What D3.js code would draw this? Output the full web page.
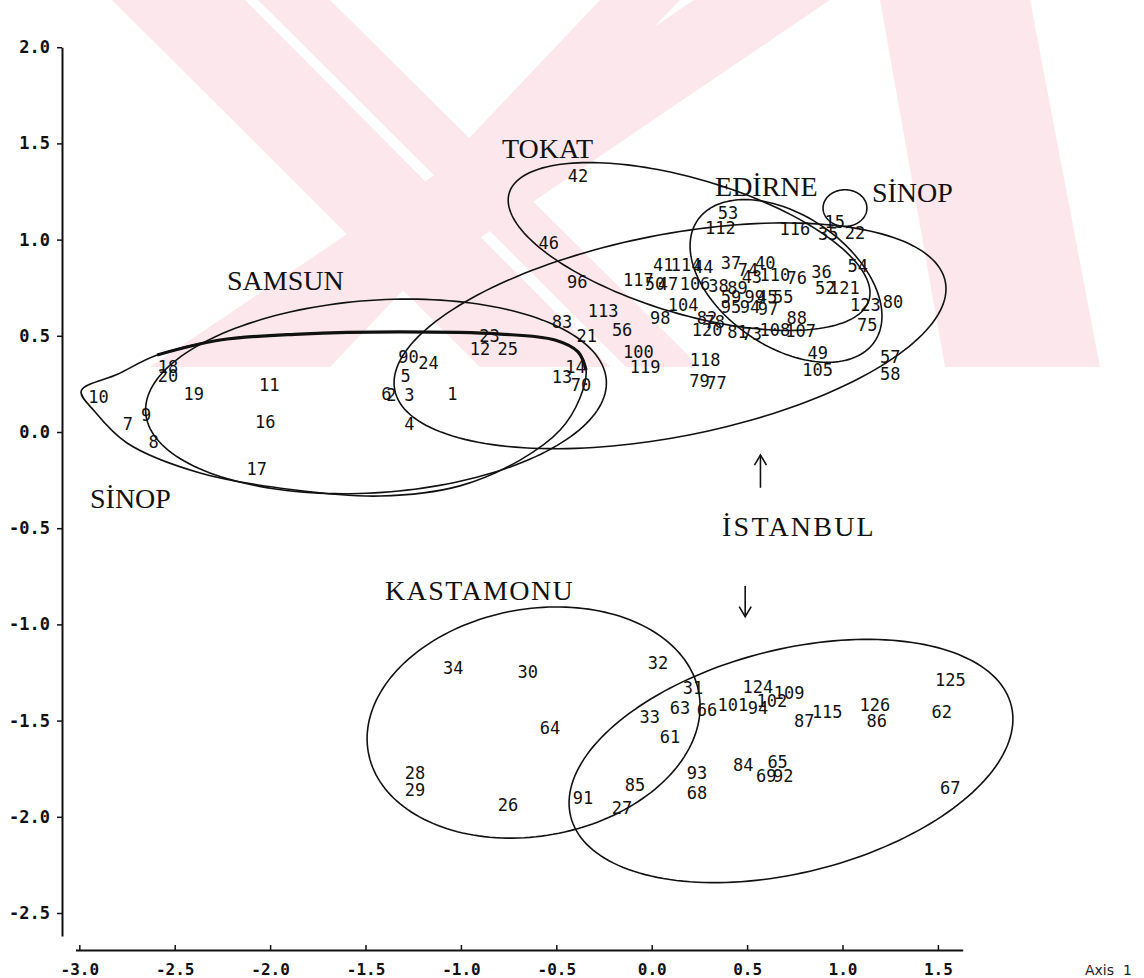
<!DOCTYPE html>
<html>
<head>
<meta charset="utf-8">
<script src="https://cdn.jsdelivr.net/npm/d3@7"></script>
<style>
  body { margin: 0; background: #fff; }
  svg { display: block; }
</style>
</head>
<body>
<svg id="chart" width="1144" height="978"></svg>
<script>
// ---- point labels: specimen numbers and their scores on the two axes ----
const pointLabels = ["10","7","9","8","18","20","19","11","16","17","6","2","3","1","4","5","90","24","23","12","25","83","21","13","14","70",
  "42","46","96","113","56","100","119","118","79","77","53","112","116","15","35","22","54","80","123","75","57","58","49","105","88",
  "120","81","73","108","107","41","114","44","117","50","47","106","38","89","37","74","40","43","110","76","36","52","121",
  "59","99","45","55","95","94","97","104","98","82","78",
  "34","30","32","31","63","33","66","64","61","28","29","26","91","85","27","93","68",
  "124","101","94","102","109","87","115","126","86","125","62","84","65","69","92","67"];
const pointX = [-2.90,-2.745,-2.65,-2.61,-2.535,-2.535,-2.40,-2.005,-2.025,-2.07,-1.39,-1.365,-1.27,-1.045,-1.27,-1.29,-1.275,-1.17,-0.85,-0.90,-0.755,-0.47,-0.34,-0.47,-0.40,-0.37,
  -0.386,-0.54,-0.39,-0.255,-0.155,-0.07,-0.035,0.28,0.25,0.34,0.40,0.36,0.75,0.96,0.925,1.065,1.08,1.265,1.12,1.13,1.25,1.25,0.87,0.87,0.76,
  0.29,0.45,0.525,0.645,0.78,0.06,0.18,0.27,-0.07,0.017,0.085,0.227,0.35,0.45,0.415,0.505,0.595,0.525,0.646,0.76,0.89,0.91,1.01,
  0.415,0.54,0.605,0.69,0.415,0.515,0.61,0.165,0.045,0.29,0.33,
  -1.04,-0.65,0.033,0.216,0.148,-0.01,0.29,-0.533,0.096,-1.24,-1.24,-0.753,-0.36,-0.0875,-0.156,0.237,0.237,
  0.557,0.426,0.557,0.63,0.72,0.80,0.92,1.17,1.18,1.565,1.52,0.48,0.66,0.60,0.69,1.565];
const pointY = [0.18,0.04,0.09,-0.05,0.34,0.29,0.20,0.245,0.05,-0.19,0.20,0.19,0.19,0.20,0.04,0.29,0.39,0.36,0.50,0.43,0.43,0.57,0.50,0.285,0.34,0.245,
  1.33,0.98,0.78,0.63,0.53,0.415,0.34,0.375,0.265,0.255,1.14,1.06,1.055,1.09,1.03,1.035,0.865,0.675,0.66,0.555,0.39,0.30,0.41,0.32,0.59,
  0.53,0.52,0.51,0.53,0.525,0.87,0.87,0.86,0.79,0.77,0.77,0.77,0.76,0.75,0.88,0.84,0.88,0.805,0.815,0.80,0.83,0.75,0.75,
  0.70,0.70,0.70,0.70,0.65,0.65,0.64,0.66,0.59,0.59,0.57,
  -1.225,-1.245,-1.20,-1.33,-1.435,-1.48,-1.445,-1.54,-1.585,-1.77,-1.86,-1.94,-1.90,-1.835,-1.955,-1.77,-1.875,
  -1.325,-1.42,-1.435,-1.40,-1.355,-1.50,-1.455,-1.42,-1.50,-1.29,-1.455,-1.73,-1.715,-1.79,-1.79,-1.85];

// ---- province groups drawn as ellipses (centre, semi-axes, rotation in degrees) ----
const groupNames = ["SAMSUN","ISTANBUL","TOKAT","EDIRNE","SINOP-E","KASTAMONU","ISTANBUL-S"];
const groupCx    = [-1.445, 0.096, 0.196, 0.704, 1.013, -0.619, 0.73];
const groupCy    = [ 0.185, 0.50,  0.964, 0.785, 1.164, -1.51, -1.71];
const groupRx    = [ 1.21,  1.47,  0.983, 0.561, 0.115, 0.88,  1.19];
const groupRy    = [ 0.50,  0.525, 0.351, 0.342, 0.095, 0.59,  0.58];
const groupRot   = [ 4,     11,    -16.4, -34,   0,     10,    14];

// ---- western Sinop group outline (tear-drop) ----
const sinopX = [-2.99,-2.80,-2.592,-2.263,-1.843,-1.319,-0.795,-0.507,-0.386,-0.344,-0.376,-0.48,-0.69,-1.005,-1.424,-1.88,-2.367,-2.75,-2.917];
const sinopY = [0.213,0.30,0.40,0.478,0.509,0.52,0.509,0.478,0.416,0.322,0.177,0.01,-0.146,-0.28,-0.333,-0.30,-0.213,-0.057,0.104];

// ---- province names ----
const regionText  = ["TOKAT","EDİRNE","SİNOP","SAMSUN","SİNOP","KASTAMONU","İSTANBUL"];
const regionX     = [-0.785, 0.332, 1.154, -2.226, -2.944, -1.398, 0.369];
const regionY     = [ 1.424, 1.227, 1.195,  0.738, -0.395, -0.873, -0.54];
const regionSpace = [0, 0, 0, 0, 0, 1.4, 2.2];

// ---- arrows tying the İstanbul name to its two outlines (x, y from, y to) ----
const arrowX    = [0.57, 0.49];
const arrowFrom = [-0.29, -0.80];
const arrowTo   = [-0.12, -0.96];

// ---- axis ticks ----
const xTicks = [-3.0,-2.5,-2.0,-1.5,-1.0,-0.5,0.0,0.5,1.0,1.5];
const yTicks = [2.0,1.5,1.0,0.5,0.0,-0.5,-1.0,-1.5,-2.0,-2.5];

const svg = d3.select("#chart");

// pale pink emblem printed behind the upper part of the page
const emblem = [
  [[112,0],[245,0],[610,367],[480,367]],
  [[258,0],[330,0],[700,367],[626,367]],
  [[600,0],[680,0],[330,367],[252,367]],
  [[694,0],[830,0],[290,367],[150,367]],
  [[880,0],[1030,0],[1100,367],[945,367]]
];
svg.append("g").selectAll("polygon").data(emblem).join("polygon")
  .attr("points", d => d.map(p => p.join(",")).join(" "))
  .attr("fill", "#fce8ec");

const x = d3.scaleLinear().domain([-3.02, 1.63]).range([75.5, 962.7]);
const y = d3.scaleLinear().domain([-2.62, 2.0]).range([936.1, 47.2]);

// axes
const fmt = d => d.toFixed(1);
const yAxis = svg.append("g").attr("transform", "translate(62,0)")
  .call(d3.axisLeft(y).tickValues(yTicks).tickFormat(fmt).tickSizeInner(5).tickSizeOuter(0));
const xAxis = svg.append("g").attr("transform", "translate(0,950)")
  .call(d3.axisBottom(x).tickValues(xTicks).tickFormat(fmt).tickSizeInner(-5).tickSizeOuter(0));
[yAxis, xAxis].forEach(g => {
  g.select(".domain").attr("stroke", "#111").attr("stroke-width", 2);
  g.selectAll(".tick line").attr("stroke", "#111").attr("stroke-width", 1.5);
  g.selectAll(".tick text").attr("fill", "#111")
    .style("font-family", "'DejaVu Sans Mono', monospace").style("font-weight", "bold");
});
yAxis.selectAll(".tick text").attr("x", -12).style("font-size", "17px");
xAxis.selectAll(".tick text").attr("y", 14).style("font-size", "16px");

svg.append("text").attr("x", 1085).attr("y", 975)
  .attr("xml:space", "preserve")
  .style("font-family", "'DejaVu Sans', sans-serif").style("font-size", "14px").attr("fill", "#222")
  .text("Axis  1");

// ellipses
const line = d3.line().curve(d3.curveLinearClosed);
const ellipsePts = i => {
  const phi = groupRot[i] * Math.PI / 180, pts = [];
  for (let k = 0; k < 180; k++) {
    const t = 2 * Math.PI * k / 180;
    const ex = groupRx[i] * Math.cos(t), ey = groupRy[i] * Math.sin(t);
    pts.push([x(groupCx[i] + ex * Math.cos(phi) - ey * Math.sin(phi)),
              y(groupCy[i] + ex * Math.sin(phi) + ey * Math.cos(phi))]);
  }
  return pts;
};
svg.append("g").selectAll("path").data(groupNames).join("path")
  .attr("d", (d, i) => line(ellipsePts(i)))
  .attr("fill", "none").attr("stroke", "#111").attr("stroke-width", 1.6);

// western Sinop tear-drop
const sinopPts = sinopX.map((v, i) => [x(v), y(sinopY[i])]);
svg.append("path")
  .attr("d", d3.line().curve(d3.curveCatmullRomClosed.alpha(0.5))(sinopPts))
  .attr("fill", "none").attr("stroke", "#111").attr("stroke-width", 1.6);
svg.append("path")
  .attr("d", d3.line().curve(d3.curveCatmullRom.alpha(0.5))(sinopPts.slice(2, 10)))
  .attr("fill", "none").attr("stroke", "#111").attr("stroke-width", 3.2);

// point labels
svg.append("g").selectAll("text").data(pointLabels).join("text")
  .attr("x", (d, i) => x(pointX[i]))
  .attr("y", (d, i) => y(pointY[i]))
  .attr("text-anchor", "middle").attr("dominant-baseline", "central")
  .style("font-family", "'DejaVu Sans Mono', monospace").style("font-size", "17px")
  .attr("fill", "#111")
  .text(d => d);

// province names
svg.append("g").selectAll("text").data(regionText).join("text")
  .attr("x", (d, i) => x(regionX[i]))
  .attr("y", (d, i) => y(regionY[i]))
  .style("font-family", "'Liberation Serif', 'Times New Roman', serif")
  .style("font-size", "28px")
  .style("letter-spacing", (d, i) => regionSpace[i] + "px")
  .attr("fill", "#111")
  .text(d => d);

// arrows
const arrows = svg.append("g").attr("stroke", "#111").attr("stroke-width", 1.6).attr("fill", "none");
arrowX.forEach((ax, i) => {
  const px = x(ax), y0 = y(arrowFrom[i]), y1 = y(arrowTo[i]);
  const dir = Math.sign(y1 - y0);
  arrows.append("line").attr("x1", px).attr("x2", px).attr("y1", y0).attr("y2", y1);
  arrows.append("polyline")
    .attr("points", [[px - 6, y1 - dir * 10], [px, y1], [px + 6, y1 - dir * 10]].map(p => p.join(",")).join(" "));
});
</script>
</body>
</html>
